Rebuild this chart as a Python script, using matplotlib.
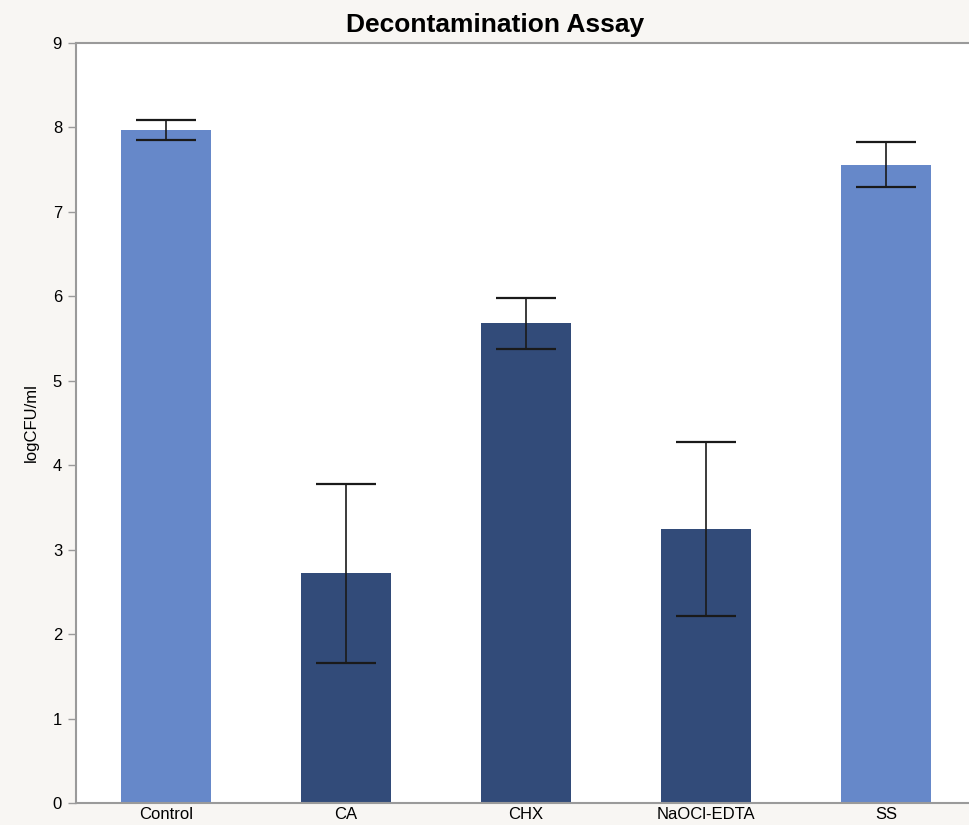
import matplotlib.pyplot as plt

groups = ['Control', 'CA', 'CHX', 'NaOCl-EDTA', 'SS']
means = [7.97, 2.72, 5.68, 3.25, 7.56]
errors = [0.12, 1.06, 0.30, 1.03, 0.27]
bar_colors = ['#6688c9', '#324b79', '#324b79', '#324b79', '#6688c9']

plt.rcParams['font.family'] = ['Liberation Sans', 'DejaVu Sans']

fig = plt.figure(figsize=(9.69, 8.25), dpi=100, facecolor='#f8f6f3')
ax = fig.add_axes([76 / 969, 22 / 825, 1 - 76 / 969, 760 / 825])
ax.set_facecolor('white')

x = range(len(groups))
ax.bar(x, means, width=0.5, color=bar_colors, zorder=2)
ax.errorbar(x, means, yerr=errors, fmt='none', ecolor='#1a1a1a',
            elinewidth=1.2, capsize=21.6, capthick=1.6, zorder=3)

ax.set_xlim(-0.5, 4.46)
ax.set_ylim(0, 9)
ax.set_yticks(range(10))
ax.set_xticks(list(x))
ax.set_xticklabels(groups)

for side in ['top', 'left', 'bottom']:
    ax.spines[side].set_color('#9a9a9a')
    ax.spines[side].set_linewidth(1.5)
ax.spines['right'].set_visible(False)
ax.tick_params(axis='y', length=6, width=1, color='#9a9a9a', labelsize=12, pad=4)
ax.tick_params(axis='x', length=0, labelsize=12, pad=3)

ax.set_ylabel('logCFU/ml', fontsize=12, labelpad=10)
fig.text(495 / 969, 1 - 25 / 825, 'Decontamination Assay', ha='center', va='center',
         fontsize=19, fontweight='bold')

fig.savefig('out.png', dpi=100, facecolor=fig.get_facecolor())
